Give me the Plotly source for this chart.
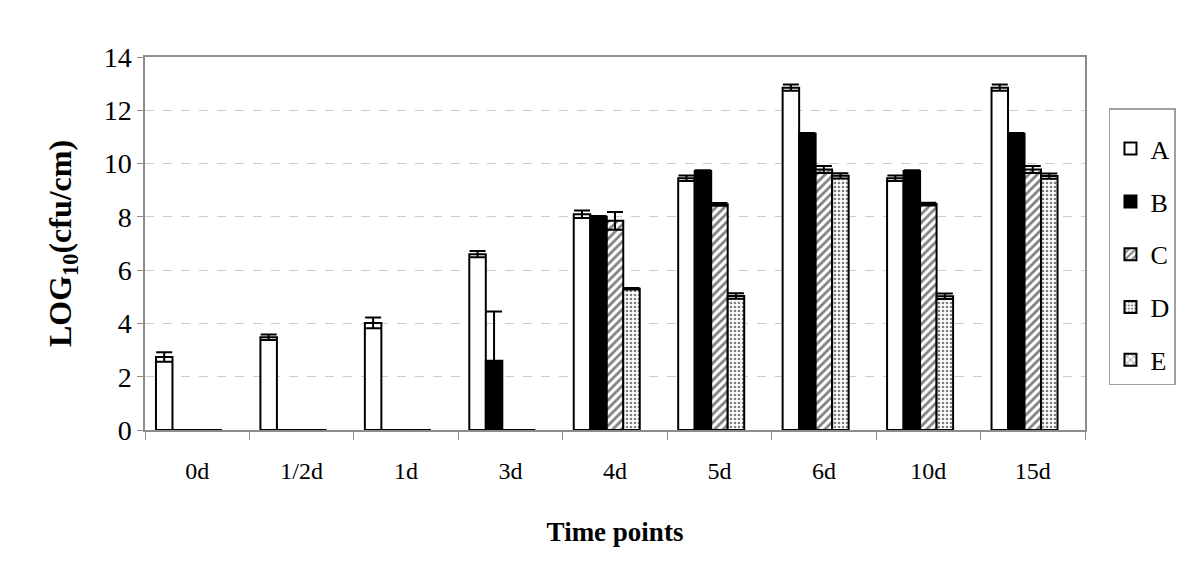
import plotly.graph_objects as go

categories = ["0d", "1/2d", "1d", "3d", "4d", "5d", "6d", "10d", "15d"]
series_names = ["A", "B", "C", "D", "E"]

A_vals = [2.74, 3.48, 4.02, 6.6, 8.1, 9.45, 12.85, 9.45, 12.85]
A_err = [0.18, 0.1, 0.2, 0.12, 0.14, 0.1, 0.12, 0.1, 0.12]
B_vals = [0, 0, 0, 2.6, 8.0, 9.72, 11.12, 9.72, 11.12]
B_err = [0, 0, 0, 1.85, 0.03, 0.03, 0.03, 0.03, 0.03]
C_vals = [0, 0, 0, 0, 7.85, 8.47, 9.78, 8.48, 9.78]
C_err = [0, 0, 0, 0, 0.33, 0.05, 0.13, 0.05, 0.13]
D_vals = [0, 0, 0, 0, 5.3, 5.03, 9.54, 5.02, 9.53]
D_err = [0, 0, 0, 0, 0.03, 0.1, 0.1, 0.1, 0.1]
E_vals = [None] * 9
E_err = [0] * 9

values = [A_vals, B_vals, C_vals, D_vals, E_vals]
errors = [A_err, B_err, C_err, D_err, E_err]

styles = [
    dict(color="white", pattern=None),
    dict(color="black", pattern=None),
    dict(color="white", pattern=dict(shape="/", fgcolor="black", bgcolor="white", size=6, solidity=0.45)),
    dict(color="white", pattern=dict(shape=".", fgcolor="black", bgcolor="white", size=4, solidity=0.35)),
    dict(color="white", pattern=dict(shape="x", fgcolor="black", bgcolor="white", size=6, solidity=0.3)),
]

fig = go.Figure()
for i, name in enumerate(series_names):
    st = styles[i]
    marker = dict(color=st["color"], line=dict(color="black", width=2))
    if st["pattern"] is not None:
        marker["pattern"] = st["pattern"]
    fig.add_trace(go.Bar(
        x=categories, y=values[i], name=name, legendgroup=name,
        marker=marker,
        error_y=dict(type="data", array=errors[i], visible=True,
                     color="black", thickness=2, width=8),
    ))

font_family = "Liberation Serif, Times New Roman, serif"

fig.update_layout(
    width=1200, height=568,
    paper_bgcolor="white", plot_bgcolor="white",
    margin=dict(l=137, r=123, t=49, b=146, autoexpand=False),
    barmode="group", bargap=0.21, bargroupgap=0,
    font=dict(family=font_family, color="black"),
    showlegend=True,
    legend=dict(
        x=1.0255, y=0.863, xanchor="left", yanchor="top",
        bordercolor="#a0a0a0", borderwidth=1.5,
        font=dict(size=26, family=font_family, color="black"),
        title=dict(text=" ", font=dict(size=12)),
        tracegroupgap=16, itemwidth=30,
    ),
    xaxis=dict(
        showline=True, linecolor="#8c8c8c", linewidth=1.5, mirror=True,
        ticks="outside", ticklen=8, tickcolor="#8c8c8c", tickson="boundaries",
        tickfont=dict(size=24, family=font_family),
        ticklabelstandoff=18,
        title=dict(text="<b>Time points</b>", font=dict(size=27, family=font_family), standoff=40),
        showgrid=False,
    ),
    yaxis=dict(
        range=[0, 14], dtick=2, tick0=0,
        showline=True, linecolor="#8c8c8c", linewidth=1.5, mirror=True,
        ticks="outside", ticklen=6, tickcolor="#8c8c8c",
        tickfont=dict(size=28, family=font_family),
        showgrid=True, gridcolor="#cccccc", griddash="dash", gridwidth=1,
        zeroline=False,
        title=dict(text="<b>LOG<sub>10</sub>(cfu/cm)</b>", font=dict(size=32, family=font_family), standoff=22),
    ),
)

fig.write_html("out.html")
